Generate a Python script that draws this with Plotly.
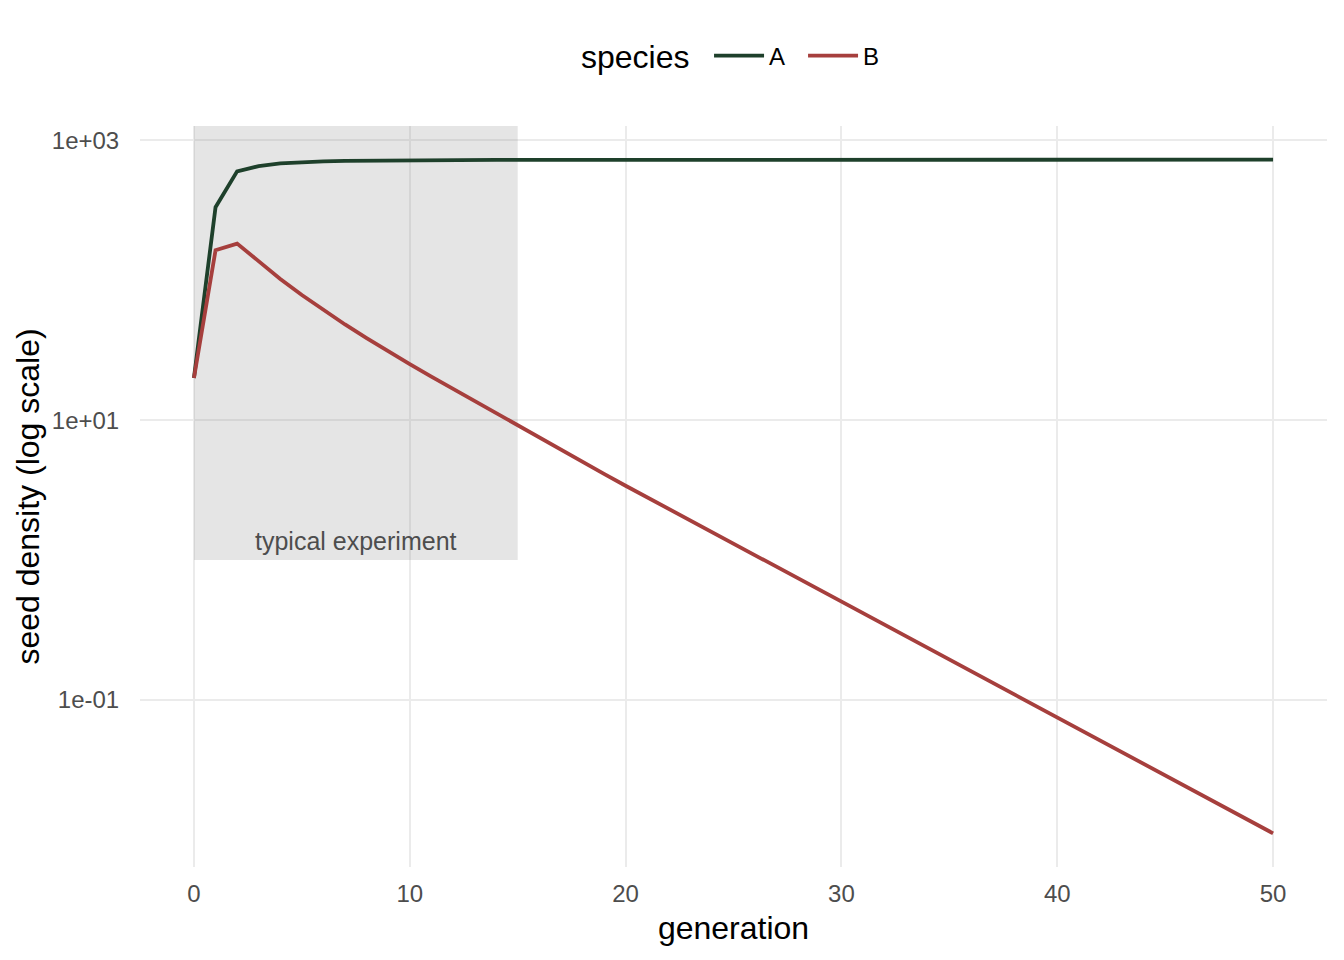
import math
import plotly.graph_objects as go

generation = list(range(0, 51))

species_A = [20, 333, 601, 655, 684, 700, 709, 714, 717, 719,
             721, 722, 723, 724, 725, 726, 726, 727, 727, 727,
             728, 728, 728, 728, 728, 728, 728, 728, 728, 728,
             728, 728, 728, 728, 728, 728, 728, 728, 728, 728,
             728, 728, 728, 728, 728, 728, 728, 728, 728, 728,
             728]

species_B = [20, 163.8, 182.9, 135.6, 102.2, 78.4, 61.1, 48.3, 38.6, 31.05,
             25.16, 20.48, 16.73, 13.67, 11.17, 9.135, 7.485, 6.136, 5.029, 4.127,
             3.394, 2.804, 2.317, 1.915, 1.582, 1.307, 1.080, 0.8927, 0.7376, 0.6095,
             0.5036, 0.4161, 0.3439, 0.2841, 0.2348, 0.1940, 0.1603, 0.1325, 0.1095, 0.0904,
             0.0747, 0.0618, 0.0510, 0.0422, 0.0348, 0.0288, 0.0238, 0.0197, 0.0162, 0.0134,
             0.0111]

x_ticks = [0, 10, 20, 30, 40, 50]
y_ticks = [1000, 10, 0.1]
y_tick_labels = ["1e+03", "1e+01", "1e-01"]

exp_start, exp_end, exp_bottom = 0, 15, 1
exp_label = "typical experiment"

COL_A = "#1e402b"
COL_B = "#a63f3d"
FONT = "Liberation Sans, Arial, Helvetica, sans-serif"

# ggplot-like 5% expansion
xmin, xmax = min(generation), max(generation)
xpad = 0.05 * (xmax - xmin)
all_y = species_A + species_B
lmin, lmax = math.log10(min(all_y)), math.log10(max(all_y))
lpad = 0.05 * (lmax - lmin)
yr = [lmin - lpad, lmax + lpad]

fig = go.Figure()

# shaded "typical experiment" region (bottom at 1, top at panel edge)
fig.add_trace(go.Scatter(
    x=[exp_start, exp_end, exp_end, exp_start, exp_start],
    y=[exp_bottom, exp_bottom, 10 ** yr[1], 10 ** yr[1], exp_bottom],
    fill="toself", fillcolor="rgba(127,127,127,0.2)",
    line=dict(width=0), mode="lines", showlegend=False, hoverinfo="skip"))

fig.add_trace(go.Scatter(x=generation, y=species_A, name="A", mode="lines",
                         line=dict(color=COL_A, width=3.8)))
fig.add_trace(go.Scatter(x=generation, y=species_B, name="B", mode="lines",
                         line=dict(color=COL_B, width=3.8)))

fig.add_annotation(x=(exp_start + exp_end) / 2, y=math.log10(exp_bottom),
                   xref="x", yref="y", text=exp_label, showarrow=False,
                   yanchor="bottom", yshift=3,
                   font=dict(size=25, color="#4d4d4d", family=FONT))

# legend title placed to the left of the legend items
fig.add_annotation(x=0.465, y=1 + 69 / 741, xref="paper", yref="paper",
                   text="species", showarrow=False, xanchor="right", yanchor="middle",
                   font=dict(size=32, color="black", family=FONT))

fig.update_layout(
    width=1344, height=960,
    margin=dict(l=140, r=17, t=126, b=93),
    plot_bgcolor="white", paper_bgcolor="white",
    font=dict(family=FONT, color="black"),
    legend=dict(orientation="h", x=0.4794, xanchor="left", y=1 + 70 / 741, yanchor="middle",
                itemwidth=50, entrywidth=29, entrywidthmode="pixels",
                font=dict(size=24, color="black"), bgcolor="rgba(0,0,0,0)"),
    xaxis=dict(range=[xmin - xpad, xmax + xpad], tickvals=x_ticks,
               showgrid=True, gridcolor="#ebebeb", gridwidth=2, zeroline=False, showline=False,
               ticks="outside", ticklen=5, tickcolor="rgba(0,0,0,0)",
               tickfont=dict(size=24, color="#4d4d4d"),
               title=dict(text="generation", font=dict(size=32, color="black"), standoff=10)),
    yaxis=dict(type="log", range=yr, tickvals=y_ticks, ticktext=y_tick_labels,
               showgrid=True, gridcolor="#ebebeb", gridwidth=2, zeroline=False, showline=False,
               ticks="outside", ticklen=15, tickcolor="rgba(0,0,0,0)",
               tickfont=dict(size=24, color="#4d4d4d"),
               title=dict(text="seed density (log scale)", font=dict(size=32, color="black"), standoff=2)),
)

fig.write_html("out.html")
